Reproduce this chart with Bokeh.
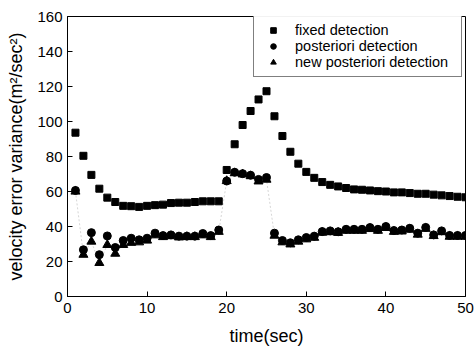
from bokeh.plotting import figure
from bokeh.models import Range1d, FixedTicker, Legend, LegendItem
from bokeh.embed import file_html
from bokeh.resources import INLINE

t = list(range(1, 51))
fixed = [93.6, 80.4, 69.5, 61.6, 56.5, 54.0, 51.8, 51.6, 51.2, 51.8,
         52.2, 52.5, 53.4, 53.6, 53.6, 54.0, 54.4, 54.4, 54.4, 72.3,
         87.0, 98.0, 106.0, 112.6, 117.3, 103.0, 91.7, 82.7, 75.9, 71.2,
         67.8, 65.4, 63.8, 62.9, 62.0, 61.2, 61.0, 60.6, 60.2, 60.0,
         59.5, 59.5, 59.1, 58.7, 58.7, 58.2, 57.8, 57.4, 57.0, 56.7]
posteriori = [60.6, 26.7, 36.5, 23.9, 34.6, 28.0, 32.0, 33.3, 32.4, 33.3,
              36.2, 34.8, 35.2, 34.5, 34.5, 34.5, 36.0, 34.8, 38.0, 66.0,
              71.0, 70.2, 69.3, 66.9, 68.0, 36.2, 32.0, 30.7, 32.4, 33.7,
              34.5, 37.1, 37.5, 37.0, 38.4, 38.4, 38.4, 39.4, 38.4, 40.0,
              37.7, 38.0, 39.0, 36.2, 39.5, 35.2, 37.5, 34.9, 34.9, 34.9]
new_posteriori = [60.0, 23.9, 31.4, 19.2, 29.5, 24.5, 29.5, 30.7, 31.0, 32.0,
                  35.0, 34.0, 34.5, 33.8, 34.0, 34.0, 35.0, 34.0, 37.0, 66.0,
                  70.5, 69.8, 68.8, 65.8, 66.8, 34.8, 31.0, 29.8, 31.4, 32.7,
                  33.6, 36.5, 36.8, 36.4, 37.6, 37.6, 37.6, 38.6, 37.6, 39.2,
                  37.0, 37.2, 38.2, 35.4, 38.7, 34.6, 36.8, 34.2, 34.2, 34.2]
x_ticks = [0, 10, 20, 30, 40, 50]
y_ticks = [0, 20, 40, 60, 80, 100, 120, 140, 160]

FONT = "Liberation Sans"

p = figure(width=474, height=348, output_backend="svg", toolbar_location=None,
           x_range=Range1d(0, 50), y_range=Range1d(0, 160),
           min_border_left=67, min_border_right=9, min_border_top=16, min_border_bottom=49)
p.background_fill_color = "white"
p.border_fill_color = "white"
p.outline_line_color = "black"
p.outline_line_width = 1
p.grid.visible = False

for ax in (p.xaxis[0], p.yaxis[0]):
    ax.major_tick_in = 5
    ax.major_tick_out = 0
    ax.minor_tick_in = 0
    ax.minor_tick_out = 0
    ax.axis_line_color = "black"
    ax.major_tick_line_color = "black"
    ax.major_label_text_font = FONT
    ax.major_label_text_font_size = "15px"
    ax.major_label_text_color = "black"
    ax.axis_label_text_font = FONT
    ax.axis_label_text_font_size = "18px"
    ax.axis_label_text_font_style = "normal"
    ax.axis_label_text_color = "black"

p.xaxis.ticker = FixedTicker(ticks=x_ticks)
p.yaxis.ticker = FixedTicker(ticks=y_ticks)
p.xaxis.axis_label = "time(sec)"
p.yaxis.axis_label = "velocity error variance(m\u00b2/sec\u00b2)"
p.xaxis.major_label_standoff = 6
p.yaxis.major_label_standoff = 5
p.xaxis.axis_label_standoff = 10
p.yaxis.axis_label_standoff = 8

p.line(t, new_posteriori, line_color="#bbbbbb", line_width=0.6, line_dash="2 2")

r1 = p.scatter(t, fixed, marker="square", size=7, fill_color="black", line_color="black")
r2 = p.scatter(t, posteriori, marker="circle", size=8, fill_color="black", line_color="black")
r3 = p.scatter(t, new_posteriori, marker="triangle", size=9, fill_color="black", line_color="black")

legend = Legend(items=[LegendItem(label="fixed detection", renderers=[r1]),
                       LegendItem(label="posteriori detection", renderers=[r2]),
                       LegendItem(label="new posteriori detection", renderers=[r3])],
                location=(186, 219))
legend.label_text_font = FONT
legend.label_text_font_size = "14.5px"
legend.label_text_color = "black"
legend.border_line_color = "black"
legend.border_line_width = 1
legend.background_fill_color = "white"
legend.glyph_width = 26
legend.glyph_height = 14
legend.label_height = 14
legend.label_width = 160
legend.label_standoff = 9
legend.spacing = 0
legend.padding = 6
legend.margin = 0
p.add_layout(legend)

open("out.html", "w").write(file_html(p, INLINE))
